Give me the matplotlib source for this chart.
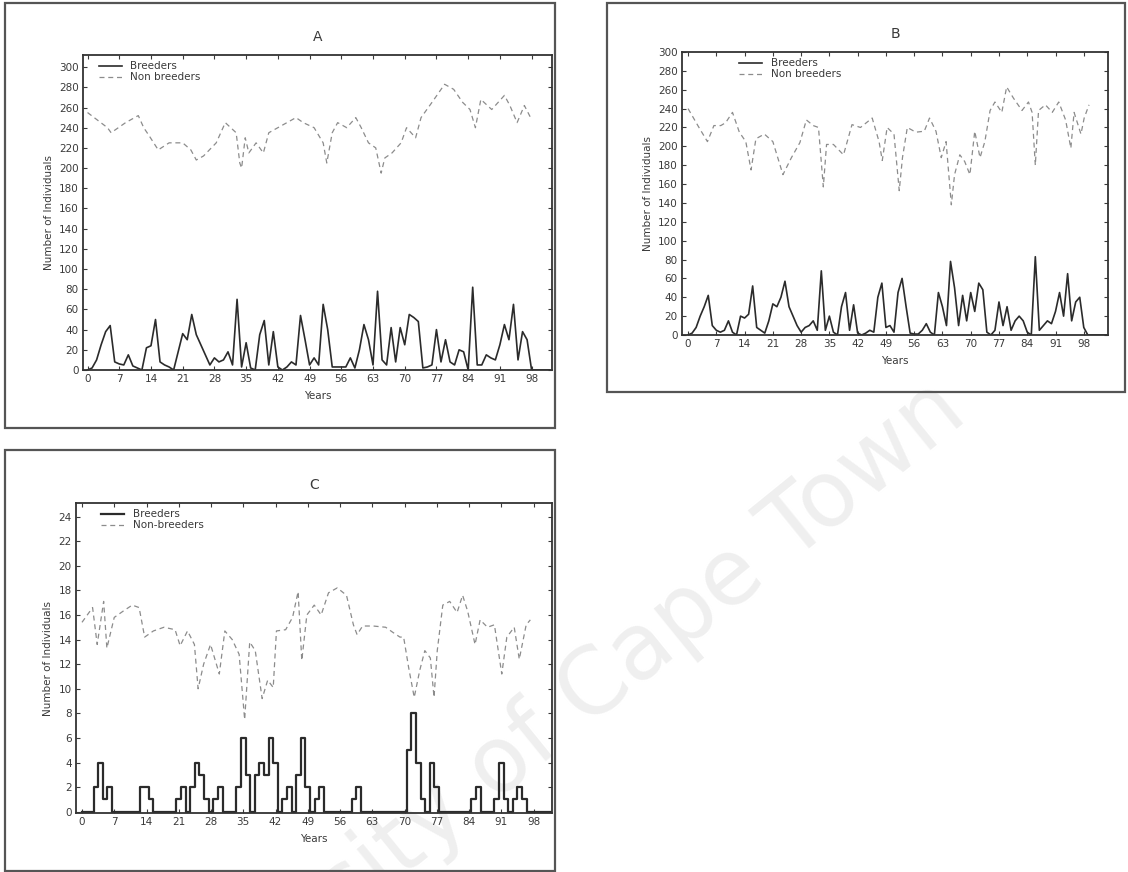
import numpy as np
import matplotlib.pyplot as plt
from matplotlib.patches import Rectangle

# ---- data ----
x_ticks = list(range(0, 99, 7))

# panel A
a_breeders = [0, 2, 10, 25, 38, 44, 8, 6, 5, 15,
              4, 2, 0, 22, 24, 50, 8, 5, 3, 0,
              18, 36, 30, 55, 35, 25, 15, 5, 12, 8,
              10, 18, 5, 70, 3, 27, 2, 0, 35, 49,
              5, 38, 3, 0, 3, 8, 5, 54, 30, 5,
              12, 5, 65, 40, 3, 3, 3, 3, 12, 2,
              20, 45, 30, 5, 78, 10, 5, 42, 8, 42,
              25, 55, 52, 48, 2, 3, 5, 40, 8, 30,
              8, 5, 20, 18, 0, 82, 5, 5, 15, 12,
              10, 25, 45, 30, 65, 10, 38, 30, 0, 0,
              0, 0, 0]
a_nb_years = [0, 4.4, 5.2, 8.4, 11.2, 12.4, 13.6, 15.6, 18, 21,
              22.8, 24, 25.6, 28.4, 30.4, 32.8, 33.6, 34, 34.8, 35.6,
              37.2, 38.8, 40, 42, 44, 46, 47.6, 50, 52, 52.8,
              54, 55.2, 57.2, 59.2, 60.4, 62, 63.6, 64.8, 65.6, 67.2,
              69.2, 70.4, 72.4, 73.6, 76, 78.8, 80.8, 82.8, 84.4, 85.6,
              86.8, 89.2, 92, 93.2, 94.8, 96.4, 98]
a_nb = [255, 240, 235, 245, 252, 240, 232, 218, 225, 225,
        218, 208, 212, 225, 245, 235, 205, 200, 230, 215,
        225, 215, 235, 240, 245, 250, 245, 240, 225, 205,
        235, 245, 240, 250, 240, 225, 220, 195, 210, 215,
        225, 240, 230, 250, 265, 283, 278, 265, 258, 240,
        268, 258, 272, 262, 245, 262, 248]

# panel B
b_breeders = [0, 2, 8, 20, 30, 42, 10, 5, 3, 5,
              15, 3, 0, 20, 18, 22, 52, 8, 5, 2,
              15, 33, 30, 40, 57, 30, 20, 10, 3, 8,
              10, 15, 5, 68, 5, 20, 3, 0, 30, 45,
              5, 32, 2, 0, 2, 5, 3, 40, 55, 8,
              10, 3, 45, 60, 30, 2, 1, 1, 5, 12,
              3, 0, 45, 30, 10, 78, 50, 10, 42, 15,
              45, 25, 55, 48, 3, 0, 5, 35, 10, 30,
              5, 15, 20, 15, 3, 0, 83, 5, 10, 15,
              12, 25, 45, 20, 65, 15, 35, 40, 8, 0,
              0, 0, 0, 0, 0]
b_nb_years = [0, 2.7, 4.8, 6.4, 8.1, 9.3, 11, 12.7, 14.3, 15.6,
              16.8, 18.9, 21, 23.5, 25.6, 27.7, 29.3, 31, 32.3, 33.5,
              34.3, 36, 38.5, 40.6, 42.7, 45.6, 47.3, 48.1, 49.3, 51,
              52.3, 53.1, 54.3, 56.4, 58.5, 59.8, 61.4, 62.7, 63.9, 65.2,
              66, 67.3, 68.5, 69.8, 71, 72.3, 73.5, 74.8, 76, 77.7,
              78.9, 80.6, 82.7, 84.3, 85.2, 86, 86.8, 88.5, 90.2, 91.8,
              93.5, 94.8, 95.6, 97.3, 98.1, 99.3]
b_nb = [240, 220, 205, 222, 222, 225, 236, 215, 205, 175,
        208, 213, 205, 170, 188, 204, 228, 222, 220, 157,
        202, 202, 191, 223, 220, 230, 205, 185, 220, 213,
        153, 188, 220, 215, 216, 230, 216, 188, 205, 138,
        170, 191, 184, 170, 216, 188, 205, 238, 247, 236,
        263, 251, 238, 247, 236, 180, 238, 244, 236, 247,
        228, 198, 236, 213, 230, 244]

# panel C
c_breeders = [0, 0, 0, 2, 4, 1, 2, 0, 0, 0,
              0, 0, 0, 2, 2, 1, 0, 0, 0, 0,
              0, 1, 2, 0, 2, 4, 3, 1, 0, 1,
              2, 0, 0, 0, 2, 6, 3, 0, 3, 4,
              3, 6, 4, 0, 1, 2, 0, 3, 6, 2,
              0, 1, 2, 0, 0, 0, 0, 0, 0, 1,
              2, 0, 0, 0, 0, 0, 0, 0, 0, 0,
              0, 5, 8, 4, 1, 0, 4, 2, 0, 0,
              0, 0, 0, 0, 0, 1, 2, 0, 0, 0,
              1, 4, 1, 0, 1, 2, 1, 0, 0, 0,
              0, 0, 0]
c_nb_years = [0, 2.3, 3.3, 4.7, 5.4, 7, 8.9, 10.9, 12.4, 13.6,
              15.5, 17.8, 20.2, 21.3, 22.9, 24.4, 25.2, 26.4, 27.9, 29.8,
              31, 32.6, 34.1, 35.3, 36.4, 37.6, 39.1, 40.3, 41.5, 42.2,
              44.2, 45.7, 46.9, 47.7, 48.8, 50.4, 51.9, 53.5, 55.4, 57.4,
              58.9, 59.7, 60.9, 63.2, 65.9, 67.4, 69, 69.8, 70.9, 72.1,
              73.3, 74.4, 75.6, 76.4, 77.1, 78.3, 79.8, 81.4, 82.6, 83.7,
              85.3, 86.4, 88, 89.5, 91.1, 92.2, 93.8, 94.9, 96.4, 97.3]
c_nb = [15.4, 16.6, 13.6, 17.1, 13.3, 15.8, 16.3, 16.8, 16.6, 14.2,
        14.7, 15, 14.8, 13.5, 14.7, 13.6, 10, 12, 13.6, 11.2,
        14.7, 14, 12.8, 7.5, 13.8, 13.1, 9.2, 10.7, 10.1, 14.7,
        14.8, 15.8, 17.9, 12.3, 16, 16.8, 16, 17.8, 18.2, 17.6,
        15.2, 14.4, 15.1, 15.1, 15, 14.6, 14.2, 14.2, 11.7, 9.3,
        11.5, 13.1, 12.5, 9.3, 13.1, 16.8, 17.1, 16.2, 17.6, 16.3,
        13.6, 15.6, 15, 15.2, 11.2, 14.2, 15, 12.4, 15.2, 15.6]

W, H = 1128, 872
TXT = '#3a3a3a'
LINE = '#2b2b2b'
NB = '#8c8c8c'


def px_rect(x0, y0, x1, y1):
    # pixel box -> figure fraction [left, bottom, width, height]
    return [x0 / W, 1 - y1 / H, (x1 - x0) / W, (y1 - y0) / H]


fig = plt.figure(figsize=(W / 100, H / 100), dpi=100)
fig.patch.set_facecolor('white')

# faint watermark of the scan, drawn first so it sits under everything
fig.text(525 / W, 1 - 745 / H, 'University of Cape Town', fontsize=66,
         color='#efefef', rotation=39, ha='center', va='center', zorder=-5)

# outer frames around each panel
for x0, y0, x1, y1 in [(5, 3, 555, 428), (607, 3, 1125, 392), (5, 450, 555, 871)]:
    fig.add_artist(Rectangle((x0 / W, 1 - y1 / H), (x1 - x0) / W, (y1 - y0) / H,
                             transform=fig.transFigure, fill=False,
                             edgecolor='#555555', linewidth=1.6))

panels = [
    ('A', px_rect(83, 55, 552, 370), a_breeders, a_nb_years, a_nb,
     (0, 312), range(0, 301, 20), (-1, 102.5), 'Non breeders', (0.02, 1.0),
     'default', 1.2),
    ('B', px_rect(682, 52, 1108, 335), b_breeders, b_nb_years, b_nb,
     (0, 300), range(0, 301, 20), (-1.5, 104), 'Non breeders', (0.12, 1.0),
     'default', 1.2),
    ('C', px_rect(76, 503, 552, 813), c_breeders, c_nb_years, c_nb,
     (-0.1, 25.1), range(0, 25, 2), (-1.3, 102), 'Non-breeders', (0.04, 1.0),
     'steps-mid', 1.6),
]

for (title, rect, breeders, nb_years, nb, ylim, yticks, xlim, nb_label,
     leg_pos, dstyle, lw) in panels:
    ax = fig.add_axes(rect)
    ax.patch.set_alpha(0)
    yrs = np.arange(len(breeders))
    ax.plot(yrs, breeders, color=LINE, lw=lw, drawstyle=dstyle,
            label='Breeders')
    ax.plot(nb_years, nb, color=NB, lw=0.9, linestyle=(0, (4, 3)),
            label=nb_label)
    ax.set_xlim(*xlim)
    ax.set_ylim(*ylim)
    ax.set_xticks(x_ticks)
    ax.set_yticks(list(yticks))
    ax.tick_params(direction='in', length=3, width=0.8, top=True, right=True,
                   labelsize=7.5, colors=TXT, pad=3)
    for s in ax.spines.values():
        s.set_color('#333333')
        s.set_linewidth(1.3)
    ax.set_title(title, fontsize=10, color=TXT, pad=10)
    ax.set_xlabel('Years', fontsize=7.5, color=TXT, labelpad=5)
    ax.set_ylabel('Number of Individuals', fontsize=7.5, color=TXT, labelpad=4)
    leg = ax.legend(loc='upper left', bbox_to_anchor=leg_pos, frameon=False,
                    fontsize=7.5, handlelength=2.2, borderaxespad=0.2,
                    labelspacing=0.1)
    for t in leg.get_texts():
        t.set_color(TXT)

fig.savefig('out.png', dpi=100, facecolor='white')
